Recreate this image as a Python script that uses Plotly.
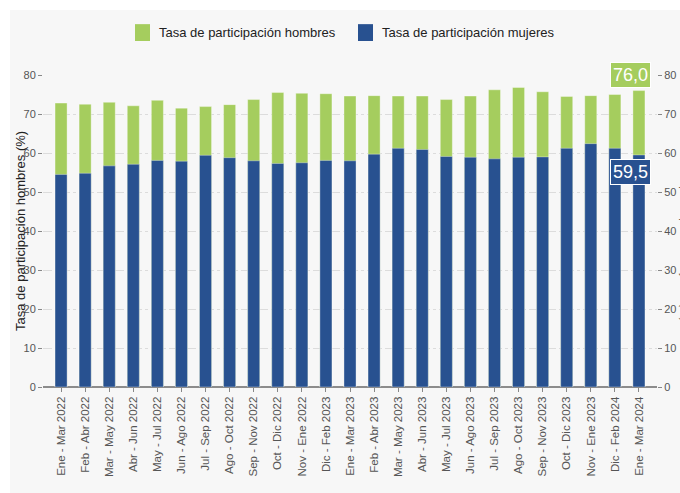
import plotly.graph_objects as go

categorias = [
    "Ene - Mar 2022", "Feb - Abr 2022", "Mar - May 2022", "Abr - Jun 2022",
    "May - Jul 2022", "Jun - Ago 2022", "Jul - Sep 2022", "Ago - Oct 2022",
    "Sep - Nov 2022", "Oct - Dic 2022", "Nov - Ene 2022", "Dic - Feb 2023",
    "Ene - Mar 2023", "Feb - Abr 2023", "Mar - May 2023", "Abr - Jun 2023",
    "May - Jul 2023", "Jun - Ago 2023", "Jul - Sep 2023", "Ago - Oct 2023",
    "Sep - Nov 2023", "Oct - Dic 2023", "Nov - Ene 2023", "Dic - Feb 2024",
    "Ene - Mar 2024",
]
hombres = [72.8, 72.5, 73.0, 72.1, 73.5, 71.5, 71.9, 72.4, 73.7, 75.5, 75.3, 75.2,
           74.6, 74.7, 74.6, 74.6, 73.7, 74.6, 76.2, 76.8, 75.7, 74.5, 74.7, 75.0, 76.0]
mujeres = [54.5, 54.8, 56.7, 57.1, 58.1, 57.9, 59.4, 58.8, 58.0, 57.3, 57.5, 58.1,
           58.0, 59.7, 61.2, 60.9, 59.1, 58.9, 58.5, 58.9, 59.0, 61.2, 62.4, 61.2, 59.5]
series = ["Tasa de participación hombres", "Tasa de participación mujeres"]
titulo_izq = "Tasa de participación hombres (%)"
titulo_der = "Tasa de participación mujeres (%)"

VERDE = "#a5cd5e"
AZUL = "#285190"
BG = "#f7f7f7"

fig = go.Figure()
fig.add_trace(go.Bar(x=categorias, y=hombres, name=series[0],
                     marker=dict(color=VERDE, line=dict(color="rgba(255,255,255,0.35)", width=1)),
                     width=0.5))
fig.add_trace(go.Bar(x=categorias, y=mujeres, name=series[1],
                     marker=dict(color=AZUL, line=dict(color="rgba(255,255,255,0.35)", width=1)),
                     width=0.5, yaxis="y2"))

tick_font = dict(family="Liberation Sans, Arial", size=11, color="#555555")

fig.update_layout(
    width=680, height=493,
    margin=dict(l=43, r=23, t=75, b=106, autoexpand=False),
    paper_bgcolor="white",
    plot_bgcolor=BG,
    separators=",.",
    barmode="overlay",
    font=dict(family="Liberation Sans, Arial", size=12, color="#222222"),
    showlegend=False,
    xaxis=dict(range=[-0.75, 24.75], tickangle=-90,
               tickfont=dict(family="Liberation Sans, Arial", size=11.5, color="#555555"),
               ticks="outside", ticklen=4, tickcolor="#888888", automargin=False,
               showgrid=False, showline=False, zeroline=False),
    yaxis=dict(range=[0, 80], dtick=10, tickfont=tick_font, automargin=False,
               ticks="outside", ticklen=4, tickcolor="#888888",
               showgrid=True, gridcolor="#dcdcdc", griddash="dashdot", gridwidth=1,
               zeroline=True, zerolinecolor="#8c8c8c", zerolinewidth=2),
    yaxis2=dict(range=[0, 80], dtick=10, tickfont=tick_font, overlaying="y", side="right",
                ticks="outside", ticklen=4, tickcolor="#888888", automargin=False,
                showgrid=False, zeroline=False),
)

# gray container background
fig.add_shape(type="rect", xref="paper", yref="paper",
              x0=-0.0537, x1=1.1, y0=-0.35, y1=1.208,
              fillcolor=BG, line=dict(width=0), layer="below")

# custom legend (larger swatches)
leg = [(0.1498, 0.1743, 0.1857, VERDE, series[0]),
       (0.5130, 0.5375, 0.5489, AZUL, series[1])]
for x0, x1, xt, col, name in leg:
    fig.add_shape(type="rect", xref="paper", yref="paper", x0=x0, x1=x1, y0=1.109, y1=1.163,
                  fillcolor=col, line=dict(width=0))
    fig.add_annotation(xref="paper", yref="paper", x=xt, y=1.135, text=name, showarrow=False,
                       xanchor="left", yanchor="middle", font=dict(size=13, color="#222222"))

# value labels on last bar
fig.add_annotation(x=categorias[-1], y=hombres[-1], text="76,0", showarrow=False,
                   xshift=-8, yshift=16, bgcolor=VERDE, bordercolor="white", borderwidth=1,
                   borderpad=2, font=dict(size=18, color="white"))
fig.add_annotation(x=categorias[-1], y=mujeres[-1], yref="y2", text="59,5", showarrow=False,
                   xshift=-8, yshift=-17, bgcolor=AZUL, bordercolor="white", borderwidth=1,
                   borderpad=2, font=dict(size=18, color="white"))

# left axis title
fig.add_annotation(xref="paper", yref="paper", x=-0.0375, y=0.5, text=titulo_izq,
                   textangle=-90, showarrow=False, xanchor="center", yanchor="middle",
                   font=dict(size=13, color="#222222"))

# right axis title (mostly clipped by the window, as in the reference)
fig.add_annotation(xref="paper", yref="paper", x=1.0326, y=0.5, text=titulo_der,
                   textangle=90, showarrow=False, xanchor="left", yanchor="middle",
                   font=dict(size=12, color="#7a6a55"))

fig.write_html("out.html", config={"displayModeBar": False},
               post_script="document.body.style.margin='0px';")
